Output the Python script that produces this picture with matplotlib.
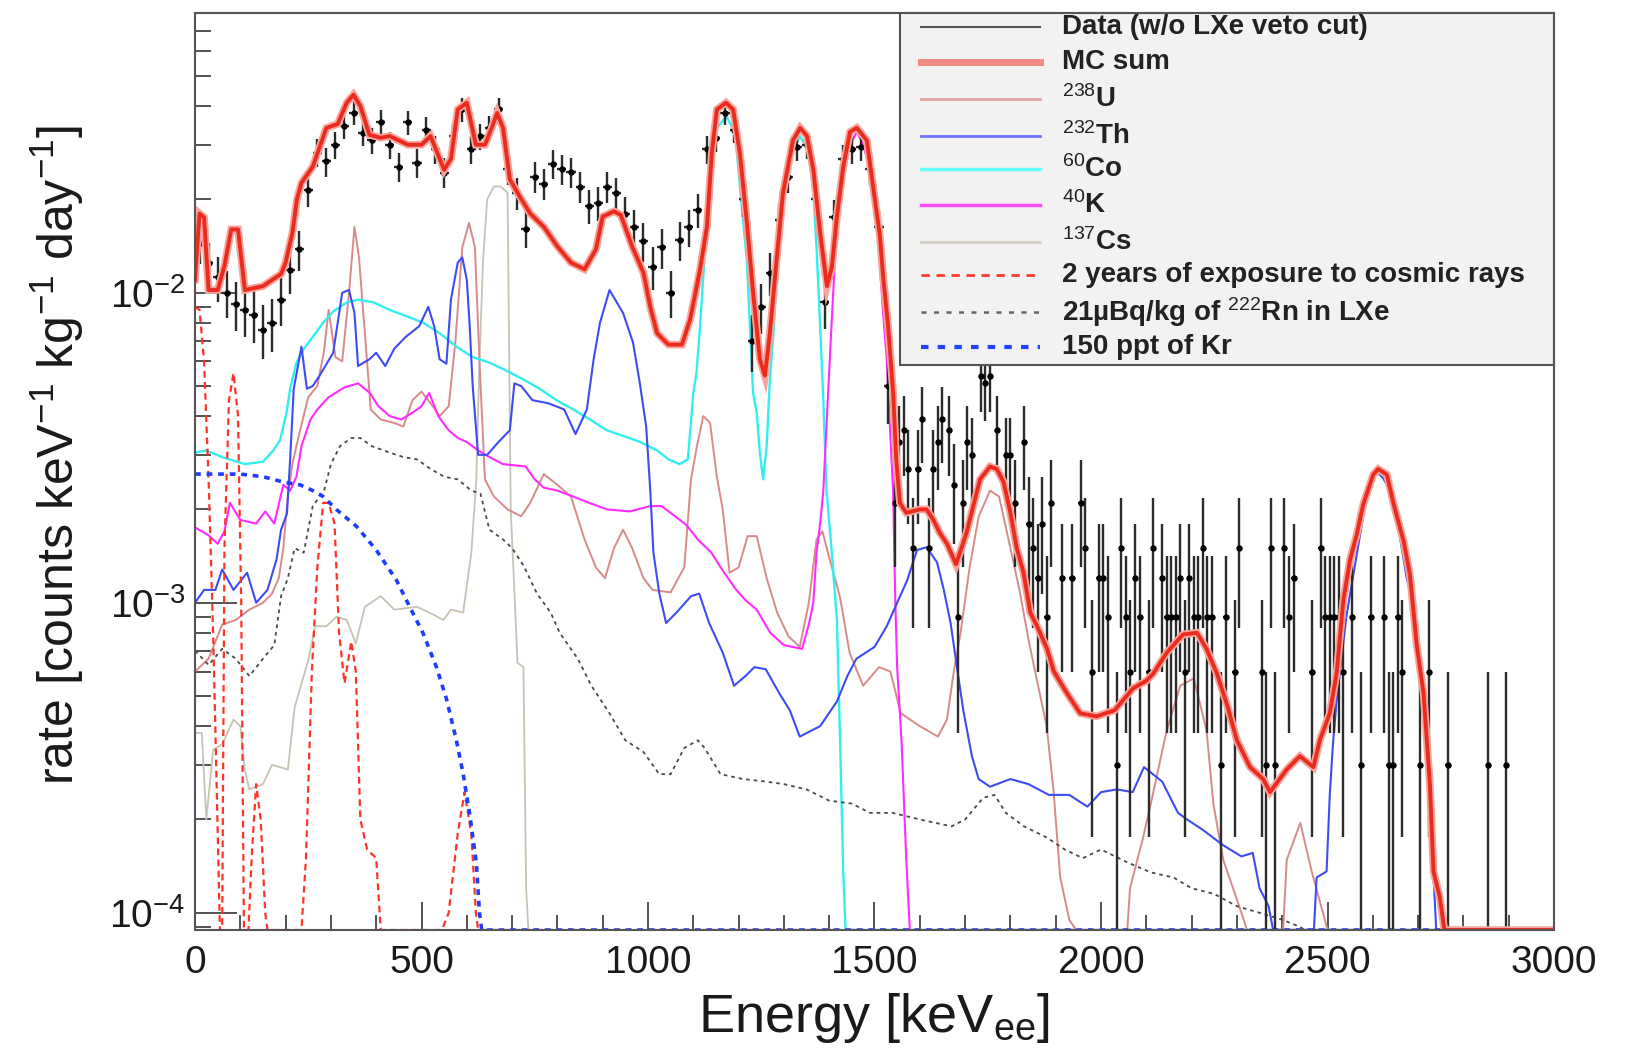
import numpy as np
import matplotlib
matplotlib.use('Agg')
import matplotlib.pyplot as plt
from matplotlib.lines import Line2D
from matplotlib.patches import Rectangle
from matplotlib.ticker import LogLocator, NullFormatter, MultipleLocator

plt.rcParams['font.family'] = ['Liberation Sans', 'DejaVu Sans']
plt.rcParams['mathtext.fontset'] = 'custom'
plt.rcParams['mathtext.rm'] = 'Liberation Sans'
plt.rcParams['mathtext.it'] = 'Liberation Sans:italic'
plt.rcParams['mathtext.bf'] = 'Liberation Sans:bold'

# ---------------- data ----------------
# Measured spectrum, 20 keV bins below 1540 keV
data_lo_E = list(range(10, 1540, 20))
data_lo_rate = [0.0145, 0.0125, 0.0112, 0.0100, 0.0092, 0.0088, 0.0085, 0.0076, 0.0080, 0.0095,
                0.0118, 0.0138, 0.0215, 0.0283, 0.0265, 0.0300, 0.0345, 0.0380, 0.0328, 0.0310,
                0.0355, 0.0300, 0.0255, 0.0354, 0.0262, 0.0336, 0.0290, 0.0244, 0.0320, 0.0390,
                0.0290, 0.0320, 0.0340, 0.0390, 0.0250, 0.0210, 0.0161, 0.0237, 0.0225, 0.0260,
                0.0250, 0.0245, 0.0220, 0.0190, 0.0195, 0.0220, 0.0210, 0.0180, 0.0163, 0.0147,
                0.0121, 0.0140, 0.0100, 0.0148, 0.0163, 0.0185, 0.0290, 0.0316, 0.0380, 0.0336,
                0.0200, 0.0070, 0.0090, 0.0116, 0.0172, 0.0237, 0.0296, 0.0300, 0.0200, 0.0093,
                0.0176, 0.0270, 0.0290, 0.0296, 0.0250, 0.0163, 0.0050]
# Measured spectrum above 1540 keV (10 keV bins, only non-empty bins)
data_hi_E = [1545, 1555, 1565, 1575, 1585, 1595, 1605, 1620, 1630, 1640, 1650, 1665, 1675, 1685,
             1695, 1705, 1715, 1735, 1745, 1755, 1770, 1790, 1800, 1810, 1830, 1840, 1850, 1860,
             1870, 1880, 1890, 1915, 1935, 1955, 1965, 1980, 1995,
             2005, 2015, 2035, 2045, 2055, 2065, 2075, 2085, 2105, 2115, 2135, 2145, 2155, 2165,
             2175, 2185, 2195, 2205, 2215, 2225, 2235, 2245, 2265, 2275, 2295, 2305, 2355, 2365,
             2375, 2385, 2405, 2415, 2425, 2465, 2485, 2495, 2505, 2515, 2525, 2535, 2555, 2575,
             2595, 2625, 2635, 2645, 2655, 2665, 2705, 2725, 2765, 2855, 2895]
data_hi_rate = [2.1e-3, 3.3e-3, 3.6e-3, 2.7e-3, 1.5e-3, 2.7e-3, 3.9e-3, 1.5e-3, 2.7e-3, 3.3e-3,
                3.9e-3, 3.6e-3, 2.4e-3, 9e-4, 2.1e-3, 3.3e-3, 3.0e-3, 5.4e-3, 5.1e-3, 5.4e-3,
                3.6e-3, 3.0e-3, 3.0e-3, 2.1e-3, 3.3e-3, 1.8e-3, 1.5e-3, 1.2e-3, 1.8e-3, 9e-4,
                2.1e-3, 1.2e-3, 1.2e-3, 2.1e-3, 1.5e-3, 6e-4, 1.2e-3,
                1.2e-3, 9e-4, 3e-4, 1.5e-3, 9e-4, 6e-4, 1.2e-3, 9e-4, 6e-4, 1.5e-3, 1.2e-3, 9e-4,
                9e-4, 9e-4, 1.2e-3, 6e-4, 1.2e-3, 9e-4, 9e-4, 1.5e-3, 9e-4, 9e-4, 3e-4, 9e-4,
                6e-4, 1.5e-3, 6e-4, 3e-4, 1.5e-3, 3e-4, 1.5e-3, 9e-4, 1.2e-3, 6e-4, 1.5e-3, 9e-4,
                9e-4, 9e-4, 9e-4, 6e-4, 9e-4, 3e-4, 9e-4, 9e-4, 3e-4, 3e-4, 9e-4, 6e-4, 3e-4,
                6e-4, 3e-4, 3e-4, 3e-4]
rate_per_count = 3e-4

mc_E = [0, 10, 20, 30, 50, 65, 80, 95, 110, 150, 190, 200, 215, 225, 235, 260, 290, 315, 335, 350,
        365, 385, 410, 430, 470, 500, 520, 550, 565, 580, 600, 620, 640, 655, 667, 680, 695, 717,
        740, 770, 800, 830, 860, 885, 900, 925, 940, 965, 990, 1005, 1020, 1045, 1075, 1093, 1115,
        1130, 1141, 1152, 1172, 1188, 1203, 1218, 1232, 1247, 1258, 1269, 1284, 1298, 1320, 1336,
        1351, 1365, 1380, 1395, 1406, 1417, 1431, 1446, 1461, 1483, 1497, 1512, 1519, 1530, 1541,
        1548, 1556, 1570, 1600, 1615, 1630, 1644, 1660, 1680, 1703, 1718, 1733, 1755, 1770, 1785,
        1800, 1814, 1829, 1844, 1859, 1881, 1896, 1925, 1954, 1990, 2030, 2071, 2100, 2115, 2145,
        2181, 2212, 2233, 2256, 2278, 2300, 2329, 2358, 2373, 2410, 2439, 2469, 2483, 2505, 2520,
        2535, 2550, 2565, 2579, 2601, 2612, 2631, 2646, 2668, 2682, 2697, 2712, 2726, 2734, 2748,
        2758, 3000]
mc_rate = [0.011, 0.018, 0.0175, 0.0102, 0.0102, 0.0122, 0.016, 0.016, 0.0102, 0.0105, 0.0115,
           0.0125, 0.0156, 0.020, 0.0226, 0.0255, 0.034, 0.035, 0.041, 0.0435, 0.040, 0.0323,
           0.0316, 0.032, 0.030, 0.030, 0.032, 0.0249, 0.027, 0.039, 0.041, 0.030, 0.030, 0.034,
           0.038, 0.034, 0.0232, 0.0204, 0.018, 0.0163, 0.0141, 0.0125, 0.0119, 0.0138, 0.0176,
           0.0183, 0.0178, 0.0141, 0.0116, 0.0090, 0.0074, 0.0068, 0.0068, 0.0082, 0.0119, 0.0163,
           0.0283, 0.039, 0.041, 0.039, 0.028, 0.017, 0.010, 0.0061, 0.0054, 0.0074, 0.0128, 0.021,
           0.031, 0.034, 0.032, 0.0249, 0.0156, 0.0105, 0.0121, 0.0176, 0.0255, 0.033, 0.034, 0.031,
           0.022, 0.0152, 0.0113, 0.0078, 0.0048, 0.0029, 0.0021, 0.00195, 0.0020, 0.0020, 0.00185,
           0.00168, 0.00155, 0.00133, 0.00168, 0.00205, 0.0025, 0.00275, 0.0027, 0.00245, 0.00195,
           0.0015, 0.00125, 0.00093, 0.00084, 0.00071, 0.00060, 0.00051, 0.00044, 0.00043, 0.00045,
           0.00053, 0.00056, 0.00059, 0.00069, 0.00079, 0.00080, 0.00071, 0.00059, 0.00047,
           0.00036, 0.000295, 0.00027, 0.000245, 0.00029, 0.00032, 0.000295, 0.00036, 0.00044,
           0.00059, 0.00102, 0.00138, 0.00167, 0.00208, 0.00259, 0.0027, 0.00259, 0.00208, 0.00158,
           0.00123, 0.00073, 0.00051, 0.00026, 0.000136, 0.000112, 0.0, 0.0]

u238_E = [0, 30, 60, 90, 120, 150, 170, 185, 195, 205, 215, 230, 250, 270, 285, 295, 310, 325, 340,
          352, 362, 375, 388, 410, 440, 460, 480, 500, 520, 540, 560, 575, 590, 605, 618, 628, 640,
          660, 690, 720, 740, 770, 800, 830, 860, 885, 905, 925, 945, 965, 990, 1010, 1050, 1080,
          1095, 1108, 1122, 1137, 1152, 1165, 1180, 1200, 1220, 1240, 1262, 1285, 1310, 1335, 1355,
          1372, 1385, 1400, 1424, 1445, 1475, 1510, 1535, 1558, 1600, 1640, 1660, 1675, 1690, 1710,
          1730, 1755, 1775, 1800, 1820, 1840, 1860, 1880, 1895, 1910, 1930, 1945, 2058, 2064, 2093,
          2110, 2145, 2175, 2205, 2233, 2248, 2270, 2295, 2314, 2322, 2402, 2410, 2440, 2465, 2490,
          2500, 3000]
u238_rate = [6.0e-4, 6.6e-4, 8.5e-4, 8.8e-4, 9.5e-4, 1.0e-3, 1.07e-3, 1.2e-3, 1.5e-3, 2.2e-3, 2.8e-3,
             3.5e-3, 4.6e-3, 5.0e-3, 6.5e-3, 8.8e-3, 6.2e-3, 6.0e-3, 1.0e-2, 1.63e-2, 1.3e-2, 7.4e-3,
             4.2e-3, 3.9e-3, 3.8e-3, 3.7e-3, 4.5e-3, 4.8e-3, 4.4e-3, 4.0e-3, 4.3e-3, 7.0e-3, 1.4e-2,
             1.68e-2, 1.4e-2, 6.0e-3, 2.5e-3, 2.2e-3, 2.0e-3, 1.9e-3, 2.1e-3, 2.6e-3, 2.4e-3, 2.2e-3,
             1.6e-3, 1.3e-3, 1.2e-3, 1.5e-3, 1.72e-3, 1.5e-3, 1.2e-3, 1.1e-3, 1.08e-3, 1.3e-3, 2.5e-3,
             3.2e-3, 4.0e-3, 3.8e-3, 2.55e-3, 2.0e-3, 1.25e-3, 1.3e-3, 1.64e-3, 1.64e-3, 1.2e-3,
             9.3e-4, 7.8e-4, 7.2e-4, 1.0e-3, 1.6e-3, 1.7e-3, 1.4e-3, 1.04e-3, 6.9e-4, 5.4e-4, 6.2e-4,
             6.0e-4, 4.4e-4, 4.0e-4, 3.7e-4, 4.2e-4, 6.0e-4, 8.0e-4, 1.3e-3, 1.9e-3, 2.3e-3, 2.2e-3,
             1.5e-3, 1.1e-3, 7.6e-4, 5.5e-4, 4.0e-4, 2.5e-4, 1.3e-4, 9.5e-5, 0, 0, 1.2e-4, 1.75e-4,
             2.25e-4, 3.87e-4, 5.4e-4, 5.7e-4, 3.87e-4, 2.25e-4, 1.48e-4, 1.16e-4, 9.6e-5, 0, 0,
             1.48e-4, 1.95e-4, 1.36e-4, 1.0e-4, 0, 0]

th232_E = [0, 20, 45, 60, 85, 115, 135, 160, 180, 190, 203, 210, 218, 235, 247, 260, 275, 305, 325,
           340, 352, 360, 385, 400, 420, 440, 465, 495, 515, 528, 540, 555, 565, 580, 590, 600, 606,
           613, 625, 645, 670, 695, 705, 720, 745, 780, 815, 840, 865, 880, 894, 915, 945, 967, 982,
           996, 1005, 1012, 1025, 1040, 1063, 1095, 1113, 1135, 1165, 1190, 1215, 1235, 1260, 1290,
           1313, 1335, 1380, 1417, 1440, 1460, 1500, 1527, 1550, 1572, 1594, 1615, 1638, 1653, 1668,
           1682, 1696, 1715, 1730, 1755, 1800, 1840, 1885, 1930, 1970, 2000, 2035, 2070, 2095, 2135,
           2170, 2190, 2225, 2270, 2310, 2335, 2350, 2370, 2380, 2470, 2476, 2498, 2505, 2512, 2520,
           2527, 2542, 2557, 2572, 2586, 2601, 2612, 2623, 2638, 2653, 2660, 2675, 2690, 2705, 2712,
           2726, 2734, 2740, 3000]
th232_rate = [1.0e-3, 1.1e-3, 1.1e-3, 1.28e-3, 1.1e-3, 1.25e-3, 1.0e-3, 1.1e-3, 1.38e-3, 1.72e-3,
              1.94e-3, 2.9e-3, 4.9e-3, 6.7e-3, 4.9e-3, 5.0e-3, 5.4e-3, 6.4e-3, 1.0e-2, 1.02e-2, 8.6e-3,
              5.8e-3, 6.1e-3, 6.4e-3, 5.8e-3, 6.6e-3, 7.2e-3, 7.8e-3, 9.0e-3, 7.8e-3, 6.1e-3, 5.9e-3,
              9.5e-3, 1.25e-2, 1.3e-2, 1.1e-2, 8.0e-3, 5.0e-3, 3.0e-3, 3.0e-3, 3.3e-3, 3.6e-3, 5.1e-3,
              5.0e-3, 4.5e-3, 4.4e-3, 4.2e-3, 3.5e-3, 4.2e-3, 6.1e-3, 8.0e-3, 1.02e-2, 8.6e-3, 6.9e-3,
              5.1e-3, 3.7e-3, 2.3e-3, 1.45e-3, 1.07e-3, 8.6e-4, 9.3e-4, 1.05e-3, 1.07e-3, 8.6e-4,
              6.9e-4, 5.4e-4, 5.8e-4, 6.2e-4, 6.1e-4, 5.1e-4, 4.5e-4, 3.7e-4, 4.0e-4, 4.8e-4, 5.8e-4,
              6.6e-4, 7.2e-4, 8.4e-4, 1.0e-3, 1.18e-3, 1.48e-3, 1.51e-3, 1.35e-3, 1.1e-3, 8.6e-4,
              6.2e-4, 4.5e-4, 3.2e-4, 2.7e-4, 2.55e-4, 2.7e-4, 2.6e-4, 2.4e-4, 2.4e-4, 2.2e-4,
              2.45e-4, 2.5e-4, 2.45e-4, 2.95e-4, 2.65e-4, 2.1e-4, 2.0e-4, 1.85e-4, 1.65e-4, 1.52e-4,
              1.56e-4, 1.2e-4, 1.05e-4, 0, 0, 1.3e-4, 1.36e-4, 2.4e-4, 3.5e-4, 4.8e-4, 5.9e-4, 9.1e-4,
              1.23e-3, 1.67e-3, 2.2e-3, 2.55e-3, 2.62e-3, 2.52e-3, 2.3e-3, 2.03e-3, 1.62e-3, 1.2e-3,
              9.65e-4, 6.7e-4, 5.1e-4, 2.57e-4, 1.32e-4, 0, 0]

co60_E = [0, 25, 60, 110, 150, 173, 188, 202, 210, 224, 239, 260, 283, 305, 335, 360, 395, 430, 467,
          504, 540, 577, 613, 650, 688, 725, 761, 798, 835, 872, 909, 946, 983, 1020, 1045, 1070,
          1088, 1100, 1107, 1115, 1122, 1130, 1137, 1144, 1152, 1173, 1192, 1203, 1210, 1218, 1225,
          1232, 1240, 1247, 1254, 1262, 1269, 1277, 1284, 1291, 1299, 1313, 1335, 1354, 1365, 1372,
          1380, 1387, 1394, 1405, 1417, 1424, 1431, 1436, 3000]
co60_rate = [3.05e-3, 3.1e-3, 2.95e-3, 2.8e-3, 2.85e-3, 3.1e-3, 3.35e-3, 4.1e-3, 4.9e-3, 5.95e-3,
             6.55e-3, 7.2e-3, 8.0e-3, 8.7e-3, 9.3e-3, 9.5e-3, 9.3e-3, 8.8e-3, 8.4e-3, 8.0e-3, 7.4e-3,
             6.7e-3, 6.2e-3, 5.95e-3, 5.6e-3, 5.25e-3, 4.9e-3, 4.5e-3, 4.2e-3, 3.9e-3, 3.6e-3,
             3.45e-3, 3.3e-3, 3.1e-3, 2.9e-3, 2.8e-3, 2.9e-3, 4.75e-3, 5.5e-3, 7.8e-3, 0.0113, 0.0163,
             0.021, 0.027, 0.034, 0.037, 0.033, 0.022, 0.017, 0.0128, 7.8e-3, 4.75e-3, 4.1e-3, 3.05e-3,
             2.5e-3, 3.2e-3, 5.25e-3, 7.4e-3, 0.0113, 0.0163, 0.021, 0.027, 0.032, 0.029, 0.021, 0.014,
             7.8e-3, 4.5e-3, 2.3e-3, 1.5e-3, 8.8e-4, 3.6e-4, 1.35e-4, 0, 0]

k40_E = [0, 30, 50, 65, 77, 100, 135, 155, 175, 195, 210, 224, 235, 255, 270, 295, 330, 360, 386,
         405, 430, 455, 480, 500, 517, 537, 560, 580, 600, 625, 650, 680, 730, 750, 770, 800, 835,
         870, 910, 960, 1005, 1030, 1060, 1085, 1110, 1140, 1165, 1195, 1215, 1240, 1270, 1300,
         1340, 1355, 1365, 1372, 1380, 1387, 1402, 1417, 1431, 1446, 1461, 1475, 1490, 1505, 1512,
         1519, 1527, 1534, 1541, 1546, 1550, 1560, 1570, 1578, 3000]
k40_rate = [1.75e-3, 1.65e-3, 1.55e-3, 1.7e-3, 2.1e-3, 1.85e-3, 1.8e-3, 1.97e-3, 1.8e-3, 2.4e-3,
            2.3e-3, 2.55e-3, 3.2e-3, 3.9e-3, 4.2e-3, 4.6e-3, 4.95e-3, 5.1e-3, 4.75e-3, 4.3e-3, 4.0e-3,
            3.9e-3, 4.1e-3, 4.3e-3, 4.75e-3, 4.0e-3, 3.6e-3, 3.4e-3, 3.3e-3, 3.1e-3, 2.95e-3, 2.8e-3,
            2.75e-3, 2.5e-3, 2.35e-3, 2.3e-3, 2.2e-3, 2.1e-3, 2.0e-3, 1.97e-3, 2.05e-3, 2.05e-3,
            1.9e-3, 1.78e-3, 1.6e-3, 1.45e-3, 1.27e-3, 1.1e-3, 1.02e-3, 9.5e-4, 8.0e-4, 7.3e-4,
            7.1e-4, 8.5e-4, 1.0e-3, 1.45e-3, 1.8e-3, 2.3e-3, 6.4e-3, 0.017, 0.0255, 0.030, 0.033,
            0.030, 0.025, 0.017, 0.0121, 8.6e-3, 6.1e-3, 3.7e-3, 2.3e-3, 1.0e-3, 6.2e-4, 3.5e-4,
            1.5e-4, 0, 0]

cs137_E = [0, 15, 25, 40, 60, 85, 100, 110, 120, 150, 170, 205, 220, 240, 252, 265, 290, 312, 335,
           355, 375, 410, 440, 490, 530, 548, 565, 592, 610, 621, 628, 636, 645, 660, 675, 690, 697,
           712, 725, 731, 736, 3000]
cs137_rate = [3.8e-4, 3.8e-4, 2.0e-4, 3.35e-4, 3.5e-4, 4.2e-4, 4.0e-4, 2.9e-4, 2.5e-4, 2.6e-4,
              3.0e-4, 2.9e-4, 4.6e-4, 5.8e-4, 6.7e-4, 8.4e-4, 8.4e-4, 9.0e-4, 8.8e-4, 7.4e-4, 9.7e-4,
              1.05e-3, 9.5e-4, 9.7e-4, 9.1e-4, 8.8e-4, 9.5e-4, 9.3e-4, 1.45e-3, 2.5e-3, 6.0e-3,
              0.0128, 0.020, 0.022, 0.022, 0.021, 2.0e-3, 6.4e-4, 6.2e-4, 1.2e-4, 0, 0]

cosmic_E = [0, 10, 20, 30, 40, 48, 55, 60, 65, 75, 85, 95, 102, 108, 118, 125, 135, 145, 155, 160,
            235, 245, 258, 270, 283, 295, 308, 318, 330, 345, 355, 365, 380, 400, 410, 545, 560,
            580, 595, 610, 620, 625, 3000]
cosmic_rate = [9.0e-3, 8.8e-3, 6.0e-3, 2.5e-3, 8.0e-4, 2.5e-4, 0, 0, 1.5e-3, 4.5e-3, 5.5e-3, 4.0e-3,
               1.0e-3, 0, 0, 1.5e-4, 2.6e-4, 2.0e-4, 1.0e-4, 0, 0, 1.5e-4, 6.0e-4, 1.3e-3, 2.1e-3,
               2.1e-3, 1.8e-3, 8.0e-4, 5.5e-4, 7.5e-4, 6.0e-4, 2.0e-4, 1.6e-4, 1.5e-4, 0, 0, 1.0e-4,
               1.8e-4, 2.45e-4, 1.8e-4, 1.0e-4, 0, 0]

rn222_E = [0, 30, 60, 90, 120, 150, 175, 190, 205, 220, 240, 260, 285, 300, 320, 345, 365, 390, 430,
           460, 490, 520, 550, 580, 610, 630, 650, 680, 700, 725, 755, 785, 805, 845, 875, 915, 950,
           990, 1025, 1050, 1080, 1110, 1125, 1160, 1210, 1260, 1300, 1350, 1400, 1450, 1490, 1540,
           1600, 1670, 1700, 1740, 1765, 1790, 1830, 1880, 1920, 1960, 2000, 2060, 2110, 2160, 2200,
           2250, 2300, 2350, 2400, 2440, 2450, 3000]
rn222_rate = [7.0e-4, 6.3e-4, 7.1e-4, 6.6e-4, 5.8e-4, 6.6e-4, 7.3e-4, 1.05e-3, 1.2e-3, 1.5e-3,
              1.45e-3, 2.05e-3, 2.3e-3, 2.8e-3, 3.2e-3, 3.4e-3, 3.4e-3, 3.2e-3, 3.05e-3, 2.95e-3,
              2.9e-3, 2.7e-3, 2.55e-3, 2.5e-3, 2.3e-3, 2.25e-3, 1.72e-3, 1.6e-3, 1.5e-3, 1.32e-3,
              1.07e-3, 9.3e-4, 8.0e-4, 6.6e-4, 5.4e-4, 4.4e-4, 3.6e-4, 3.3e-4, 2.8e-4, 2.8e-4, 3.4e-4,
              3.6e-4, 3.4e-4, 2.8e-4, 2.7e-4, 2.65e-4, 2.6e-4, 2.5e-4, 2.3e-4, 2.25e-4, 2.1e-4,
              2.1e-4, 2.0e-4, 1.9e-4, 2.0e-4, 2.35e-4, 2.4e-4, 2.1e-4, 1.9e-4, 1.75e-4, 1.6e-4,
              1.5e-4, 1.6e-4, 1.45e-4, 1.35e-4, 1.3e-4, 1.2e-4, 1.15e-4, 1.05e-4, 1.0e-4, 9.5e-5,
              9.0e-5, 0, 0]

kr85_E = [0, 50, 100, 150, 195, 232, 260, 283, 312, 357, 400, 445, 474, 503, 533, 555, 577, 592, 606,
          621, 628, 633, 3000]
kr85_rate = [2.6e-3, 2.6e-3, 2.6e-3, 2.55e-3, 2.45e-3, 2.4e-3, 2.3e-3, 2.2e-3, 2.0e-3, 1.76e-3,
             1.48e-3, 1.18e-3, 9.7e-4, 8.0e-4, 6.2e-4, 4.9e-4, 3.6e-4, 2.8e-4, 2.1e-4, 1.45e-4,
             1.0e-4, 0, 0]

legend_labels = ['Data (w/o LXe veto cut)', 'MC sum', r'$^{238}$U', r'$^{232}$Th',
                 r'$^{60}$Co', r'$^{40}$K', r'$^{137}$Cs',
                 '2 years of exposure to cosmic rays', r'21µBq/kg of $^{222}$Rn in LXe',
                 '150 ppt of Kr']

# ---------------- figure ----------------
W, H = 1627, 1061
fig = plt.figure(figsize=(W / 100, H / 100), dpi=100)
AX_L, AX_R, AX_T, AX_B = 195, 1554, 12.7, 930
ax = fig.add_axes([AX_L / W, 1 - AX_B / H, (AX_R - AX_L) / W, (AX_B - AX_T) / H])
YMIN, YMAX = 8.8e-5, 0.080
ax.set_yscale('log')
ax.set_xlim(0, 3000)
ax.set_ylim(YMIN, YMAX)


def floor(v):
    v = np.asarray(v, dtype=float)
    return np.where(v > 0, v, YMIN)


ax.plot(cs137_E, floor(cs137_rate), color='#c8c2b4', lw=1.3, zorder=2)
ax.plot(u238_E, floor(u238_rate), color='#d98a8a', lw=1.4, zorder=2.1)
ax.plot(co60_E, floor(co60_rate), color='#33eeee', lw=1.7, zorder=2.2)
ax.plot(k40_E, floor(k40_rate), color='#ff2bff', lw=1.5, zorder=2.3)
ax.plot(th232_E, floor(th232_rate), color='#3e4cf2', lw=1.5, zorder=2.4)
ax.plot(rn222_E, floor(rn222_rate), color='#4a4a4a', lw=1.3, dashes=(2, 2.2), zorder=2.5)
ax.plot(cosmic_E, floor(cosmic_rate), color='#ff3228', lw=1.6, dashes=(3, 2), zorder=2.6)
ax.plot(kr85_E, floor(kr85_rate), color='#1f3cff', lw=2.6, dashes=(1.6, 1.6), zorder=2.7)

# data with Poisson-like error bars
for dE, dR, hw in ((data_lo_E, data_lo_rate, 10), (data_hi_E, data_hi_rate, 5)):
    dE = np.asarray(dE, float)
    dR = np.asarray(dR, float)
    err = np.sqrt(dR * rate_per_count)
    lo = np.minimum(err, dR * 0.999)
    ax.errorbar(dE, dR, yerr=[lo, err], xerr=hw, fmt='o', ms=3.6, mfc='black', mec='black',
                ecolor='#2b2b2b', elinewidth=1.7, capsize=0, zorder=5)

ax.plot(mc_E, floor(mc_rate), color='#f7a59c', lw=5.5, zorder=6, solid_joinstyle='miter')
ax.plot(mc_E, floor(mc_rate), color='#ec2b1f', lw=2.8, zorder=6.1)

# axes styling
for s in ax.spines.values():
    s.set_color('#555555')
    s.set_linewidth(1.5)
    s.set_zorder(12)
ax.xaxis.set_major_locator(MultipleLocator(500))
ax.xaxis.set_minor_locator(MultipleLocator(100))
ax.yaxis.set_major_locator(LogLocator(base=10))
ax.yaxis.set_minor_locator(LogLocator(base=10, subs=np.arange(2, 10)))
ax.yaxis.set_minor_formatter(NullFormatter())
ax.tick_params(axis='both', which='both', direction='in', colors='#444444', labelcolor='#1a1a1a',
               labelsize=28, top=False, right=False, width=1.3)
ax.tick_params(axis='x', which='major', length=20, pad=11)
ax.tick_params(axis='x', which='minor', length=10.5)
ax.tick_params(axis='y', which='major', length=30, pad=7)
ax.tick_params(axis='y', which='minor', length=11.5)

fig.text(874 / W, 1 - 1032 / H, r'Energy [keV$_{\mathrm{ee}}$]', fontsize=39, ha='center',
         va='baseline', color='#1a1a1a')
fig.text(57 / W, 1 - 455 / H, r'rate [counts keV$^{-1}$ kg$^{-1}$ day$^{-1}$]', fontsize=36,
         ha='center', va='center', rotation=90, color='#1a1a1a')

# legend box (drawn by hand to match the ROOT layout)
def ax_x(px):
    return (px - AX_L) / (AX_R - AX_L)


def ax_y(py):
    return (AX_B - py) / (AX_B - AX_T)


LEG_L, LEG_B = 900, 365
ax.add_patch(Rectangle((ax_x(LEG_L), ax_y(LEG_B)), 1 - ax_x(LEG_L), 1 - ax_y(LEG_B),
                       transform=ax.transAxes, facecolor='#f2f2f2', edgecolor='#555555',
                       lw=1.5, zorder=10, clip_on=False))
row_y = [26.7, 61.7, 99.3, 135.7, 169, 205, 241.7, 275, 311.7, 346.7]
handle_styles = [dict(color='#555555', lw=1.5),
                 dict(color='#f28b82', lw=5),
                 dict(color='#e3a3a3', lw=2),
                 dict(color='#6f70ff', lw=2),
                 dict(color='#66ffff', lw=2.5),
                 dict(color='#ff4dff', lw=2.5),
                 dict(color='#d4d0c4', lw=2),
                 dict(color='#ff3a30', lw=2, dashes=(3, 2.4)),
                 dict(color='#666666', lw=1.8, dashes=(2, 3)),
                 dict(color='#2244ff', lw=3, dashes=(1.8, 2.2))]
for yy, lab, st in zip(row_y, legend_labels, handle_styles):
    ay = ax_y(yy)
    ax.add_line(Line2D([ax_x(921), ax_x(1040)], [ay, ay], transform=ax.transAxes,
                       clip_on=False, zorder=11, **st))
    ax.text(ax_x(1062), ay, lab, transform=ax.transAxes, fontsize=20, fontweight='bold',
            color='#222222', ha='left', va='center', zorder=11)

fig.savefig('out.png', dpi=100, facecolor='white')
